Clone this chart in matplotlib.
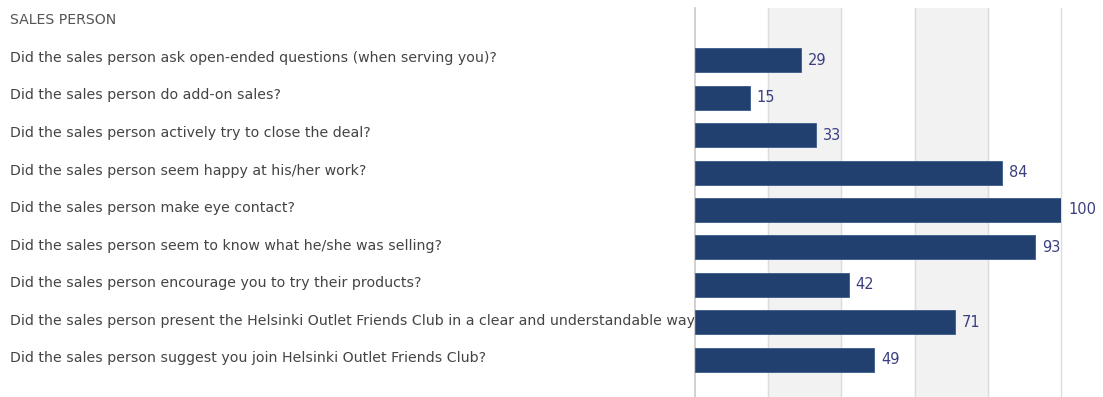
import numpy as np
import matplotlib.pyplot as plt

questions = [
    "Did the sales person ask open-ended questions (when serving you)?",
    "Did the sales person do add-on sales?",
    "Did the sales person actively try to close the deal?",
    "Did the sales person seem happy at his/her work?",
    "Did the sales person make eye contact?",
    "Did the sales person seem to know what he/she was selling?",
    "Did the sales person encourage you to try their products?",
    "Did the sales person present the Helsinki Outlet Friends Club in a clear and understandable way?",
    "Did the sales person suggest you join Helsinki Outlet Friends Club?",
]
scores = [29, 15, 33, 84, 100, 93, 42, 71, 49]
section = "SALES PERSON"

W, H = 1103, 397
fig = plt.figure(figsize=(W / 100, H / 100), dpi=100)
ax = fig.add_axes([695 / W, 0, (1061 - 695) / W, 1 - 8 / H])
ax.set_zorder(1)

y = np.arange(len(scores))
# alternating bands
for lo in (20, 60):
    ax.axvspan(lo, lo + 20, color="#f2f2f2", zorder=0)
for gx in (20, 40, 60, 80, 100):
    ax.axvline(gx, color="#dcdcdc", lw=1, zorder=0.5, clip_on=False)
ax.axvline(0, color="#c8c8c8", lw=1.2, zorder=0.5, clip_on=False)

ax.barh(y, scores, height=0.64, color="#213f6f", edgecolor="#3a5a8a", lw=0.6, zorder=2)
for yi, v in zip(y, scores):
    ax.annotate(str(v), (v, yi), xytext=(5, 0), textcoords="offset points",
                va="center", ha="left", fontsize=10.5, color="#3b3f80",
                zorder=3, annotation_clip=False)

ax.set_xlim(0, 100)
ax.set_ylim(len(scores) - 1 + 0.987, -1.387)
ax.axis("off")

fig.text(10 / W, 1 - 20 / H, section, fontsize=10.2, color="#555555", va="center", zorder=0)
for yi, q in zip(y, questions):
    yp = 58 + yi * 37.5
    fig.text(10 / W, 1 - yp / H, q, fontsize=10.2, color="#444444", va="center", zorder=0)

fig.savefig("out.png", dpi=100)
